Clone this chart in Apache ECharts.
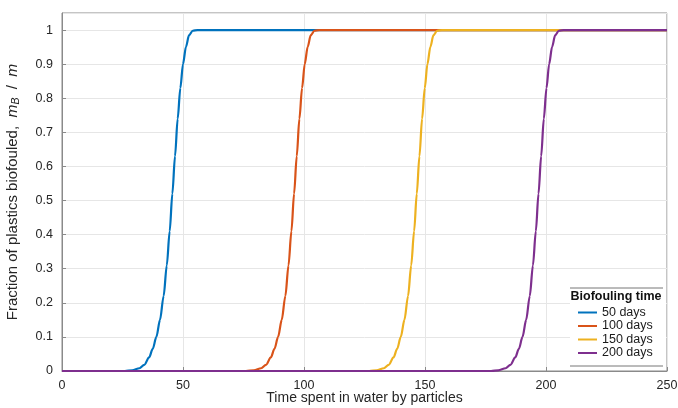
<!DOCTYPE html>
<html>
<head>
<meta charset="utf-8">
<script src="https://cdn.jsdelivr.net/npm/echarts@6/dist/echarts.min.js"></script>
<style>
  html, body { margin: 0; padding: 0; background: #fff; }
  #chart { width: 678px; height: 408px; }
</style>
</head>
<body>
<div id="chart"></div>
<script>
// series names (legend)
const seriesNames = ['50 days', '100 days', '150 days', '200 days']
const seriesColors = ['#0072BD', '#D95319', '#EDB120', '#7E2F8E']

// [time in days, fraction biofouled]
const days50 = [[0, 0], [26, 0], [29, 0.002], [32, 0.008], [34, 0.018], [36, 0.04], [37.5, 0.065], [39, 0.1], [40.5, 0.15], [42, 0.22], [43.3, 0.31], [44.5, 0.41], [45.6, 0.52], [46.7, 0.63], [47.8, 0.74], [48.9, 0.83], [50, 0.9], [51.2, 0.95], [52.5, 0.985], [54, 0.998], [56, 1], [250, 1]]
const days100 = [[0, 0], [76, 0], [79.3, 0.002], [82.3, 0.008], [84.3, 0.018], [86.3, 0.04], [87.8, 0.065], [89.3, 0.1], [90.8, 0.15], [92.3, 0.22], [93.6, 0.31], [94.8, 0.41], [95.9, 0.52], [97, 0.63], [98.1, 0.74], [99.2, 0.83], [100.3, 0.9], [101.5, 0.95], [102.8, 0.985], [104.3, 0.998], [106.3, 1], [250, 1]]
const days150 = [[0, 0], [127, 0], [130, 0.002], [133, 0.008], [135, 0.018], [137, 0.04], [138.5, 0.065], [140, 0.1], [141.5, 0.15], [143, 0.22], [144.3, 0.31], [145.5, 0.41], [146.6, 0.52], [147.7, 0.63], [148.8, 0.74], [149.9, 0.83], [151, 0.9], [152.2, 0.95], [153.5, 0.985], [155, 0.998], [157, 1], [250, 1]]
const days200 = [[0, 0], [177.3, 0], [180.3, 0.002], [183.3, 0.008], [185.3, 0.018], [187.3, 0.04], [188.8, 0.065], [190.3, 0.1], [191.8, 0.15], [193.3, 0.22], [194.6, 0.31], [195.8, 0.41], [196.9, 0.52], [198, 0.63], [199.1, 0.74], [200.2, 0.83], [201.3, 0.9], [202.5, 0.95], [203.8, 0.985], [205.3, 0.998], [207.3, 1], [250, 1]]

// tick labels
const xTicks = ['0', '50', '100', '150', '200', '250']
const yTicks = ['0', '0.1', '0.2', '0.3', '0.4', '0.5', '0.6', '0.7', '0.8', '0.9', '1']

const font = 'Liberation Sans, Arial, Helvetica, sans-serif'
const allData = [days50, days100, days150, days200]

var chart = echarts.init(document.getElementById('chart'))

chart.setOption({
  animation: false,
  textStyle: {fontFamily: font},
  grid: {
    left: 62,
    right: 11,
    top: 13,
    bottom: 37,
    outerBoundsMode: 'none',
    containLabel: false,
    show: true,
    borderColor: '#8a8a8a',
    borderWidth: 1,
  },
  legend: {
    orient: 'vertical',
    left: 577,
    top: 306,
    itemWidth: 19,
    itemHeight: 14,
    itemGap: 0.5,
    padding: 0,
    z: 20,
    data: seriesNames,
    itemStyle: {opacity: 0},
    lineStyle: {width: 2},
    textStyle: {
      fontSize: 12.5,
      color: '#1a1a1a',
      fontFamily: font,
    },
  },
  graphic: [
    {
      type: 'rect',
      z: 10,
      shape: {x: 570, y: 288, width: 96, height: 78},
      style: {fill: '#fff'},
    },
    {
      type: 'line',
      z: 11,
      shape: {x1: 570, y1: 288, x2: 663, y2: 288},
      style: {stroke: '#777', lineWidth: 1},
    },
    {
      type: 'line',
      z: 11,
      shape: {x1: 570, y1: 366, x2: 663, y2: 366},
      style: {stroke: '#777', lineWidth: 1},
    },
    {
      type: 'text',
      z: 11,
      x: 616,
      y: 297,
      style: {
        text: 'Biofouling time',
        fontSize: 12.5,
        fontWeight: 'bold',
        fontFamily: font,
        fill: '#111',
        align: 'center',
        verticalAlign: 'middle',
      },
    },
  ],
  xAxis: {
    type: 'value',
    min: 0,
    max: 250,
    interval: 50,
    name: 'Time spent in water by particles',
    nameLocation: 'middle',
    nameGap: 20,
    nameMoveOverlap: false,
    nameTextStyle: {fontSize: 14, color: '#262626'},
    axisLine: {lineStyle: {color: '#8a8a8a', width: 1}},
    axisTick: {inside: true, length: 4, lineStyle: {color: '#8a8a8a'}},
    axisLabel: {
      fontSize: 12.5,
      color: '#262626',
      margin: 8,
      formatter: function (v) {
        return xTicks[Math.round(v / 50)] || ''
      },
    },
    splitLine: {lineStyle: {color: '#e6e6e6', width: 1}},
  },
  yAxis: {
    type: 'value',
    min: 0,
    max: 1.05,
    interval: 0.1,
    name: '{n|Fraction of plastics biofouled,  }{i|m}{s|B}{n|  /  }{i|m}',
    nameLocation: 'middle',
    nameGap: 40,
    nameMoveOverlap: false,
    nameTextStyle: {
      rich: {
        n: {fontSize: 15, color: '#262626', fontFamily: font},
        i: {fontSize: 15.5, color: '#262626', fontStyle: 'italic', fontFamily: font},
        s: {fontSize: 10.5, color: '#262626', fontStyle: 'italic', fontFamily: font, padding: [7, 0, 0, 0]},
      },
    },
    axisLine: {show: true, lineStyle: {color: '#8a8a8a', width: 1}},
    axisTick: {show: true, inside: true, length: 4, lineStyle: {color: '#8a8a8a'}},
    axisLabel: {
      fontSize: 12.5,
      color: '#262626',
      margin: 9,
      showMaxLabel: false,
      formatter: function (v) {
        var i = Math.round(v * 10)
        return Math.abs(v * 10 - i) < 1e-6 ? (yTicks[i] || '') : ''
      },
    },
    splitLine: {lineStyle: {color: '#e6e6e6', width: 1}},
  },
  series: allData.map(function (d, k) {
    return {
      name: seriesNames[k],
      type: 'line',
      data: d,
      symbol: 'none',
      smooth: 0.3,
      smoothMonotone: 'x',
      color: seriesColors[k],
      lineStyle: {width: 2.2, color: seriesColors[k]},
      z: 2 + k,
    }
  }),
})
</script>
</body>
</html>
